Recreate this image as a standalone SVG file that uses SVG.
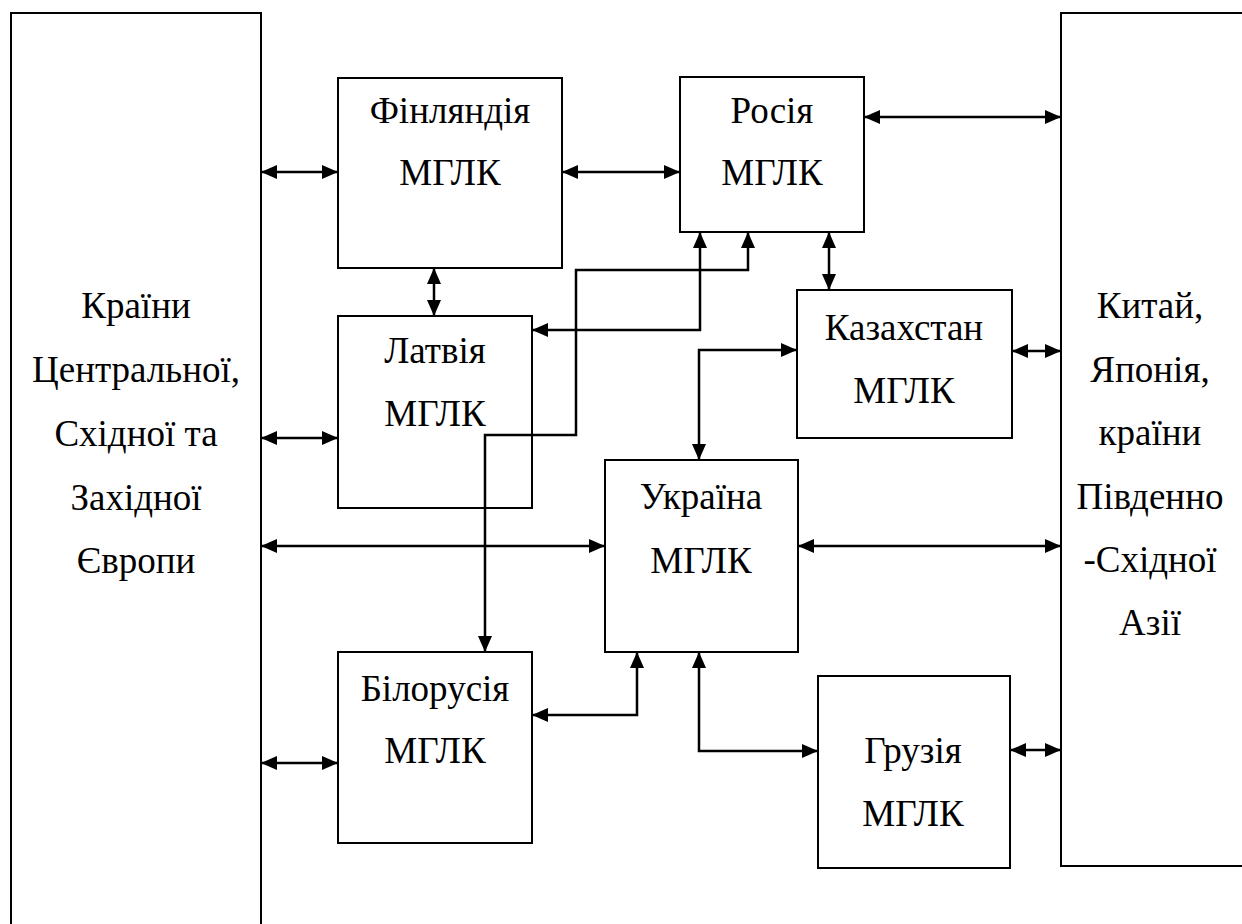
<svg xmlns="http://www.w3.org/2000/svg" width="1242" height="924" viewBox="0 0 1242 924">
<style>
.box{fill:#fff;stroke:#000;stroke-width:2}
.t{font-size:37px;fill:#000;text-anchor:middle}
.c{fill:none;stroke:#000;stroke-width:2.5}
</style>
<defs>
<marker id="a" viewBox="0 0 16 14" refX="15" refY="7" markerWidth="16" markerHeight="14" markerUnits="userSpaceOnUse" orient="auto-start-reverse">
<path d="M0,0 L16,7 L0,14 Z" fill="#000"/>
</marker>
</defs>
<rect width="1242" height="924" fill="#fff"/>
<g font-family="'Liberation Serif', 'Times New Roman', 'DejaVu Serif', serif">
<g id="europe"><rect class="box" x="11" y="13" width="250" height="930"/>
<text class="t" x="136" y="318">Країни</text>
<text class="t" x="136" y="382">Центральної,</text>
<text class="t" x="136" y="446">Східної та</text>
<text class="t" x="136" y="510">Західної</text>
<text class="t" x="136" y="573">Європи</text></g>
<g id="asia"><rect class="box" x="1061" y="13" width="200" height="853"/>
<text class="t" x="1150" y="318">Китай,</text>
<text class="t" x="1150" y="382">Японія,</text>
<text class="t" x="1150" y="445">країни</text>
<text class="t" x="1150" y="509">Південно</text>
<text class="t" x="1150" y="572">-Східної</text>
<text class="t" x="1150" y="635">Азії</text></g>
<g id="finland"><rect class="box" x="338" y="78" width="224" height="190"/>
<text class="t" x="450" y="123">Фінляндія</text><text class="t" x="450" y="185">МГЛК</text></g>
<g id="russia"><rect class="box" x="680" y="77" width="184" height="155"/>
<text class="t" x="772" y="123">Росія</text><text class="t" x="772" y="185">МГЛК</text></g>
<g id="latvia"><rect class="box" x="338" y="316" width="194" height="192"/>
<text class="t" x="435" y="363">Латвія</text><text class="t" x="435" y="426">МГЛК</text></g>
<g id="kazakhstan"><rect class="box" x="797" y="290" width="215" height="148"/>
<text class="t" x="904" y="340">Казахстан</text><text class="t" x="904" y="403">МГЛК</text></g>
<g id="ukraine"><rect class="box" x="605" y="460" width="193" height="192"/>
<text class="t" x="701" y="509">Україна</text><text class="t" x="701" y="573">МГЛК</text></g>
<g id="belarus"><rect class="box" x="338" y="652" width="194" height="191"/>
<text class="t" x="435" y="701">Білорусія</text><text class="t" x="435" y="763">МГЛК</text></g>
<g id="georgia"><rect class="box" x="818" y="676" width="192" height="192"/>
<text class="t" x="913" y="763">Грузія</text><text class="t" x="913" y="826">МГЛК</text></g>
</g>
<g id="connectors" class="c" marker-start="url(#a)" marker-end="url(#a)">
<path d="M262,172 H337"/>
<path d="M563,172 H679"/>
<path d="M865,117 H1060"/>
<path d="M434,269 V315"/>
<path d="M700,233 V330 H533"/>
<path d="M748,233 V270 H576 V435 H485 V651"/>
<path d="M829,233 V289"/>
<path d="M1013,351 H1060"/>
<path d="M796,350 H699 V459"/>
<path d="M262,438 H337"/>
<path d="M262,546 H604"/>
<path d="M799,546 H1060"/>
<path d="M533,715 H637 V653"/>
<path d="M699,653 V751 H817"/>
<path d="M1011,750 H1060"/>
<path d="M262,763 H337"/>
</g>
</svg>
